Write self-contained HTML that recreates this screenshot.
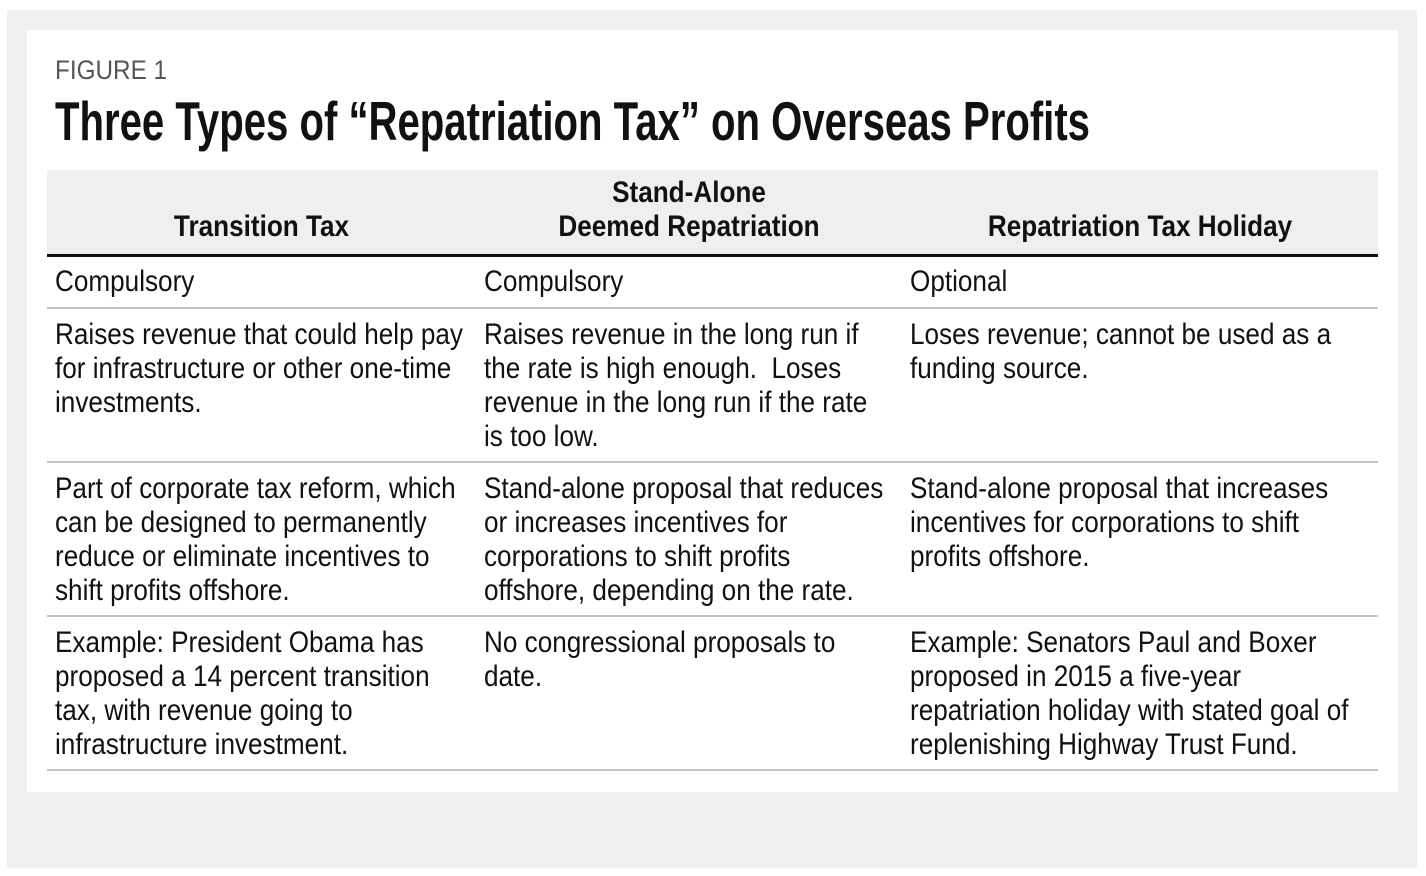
<!DOCTYPE html>
<html><head><meta charset="utf-8"><style>
body{margin:0;width:1426px;height:876px;background:#fff;position:relative;overflow:hidden;font-family:"Liberation Sans",sans-serif;color:#111}
#panel{position:absolute;left:7px;top:10px;width:1410px;height:858px;background:#efefef}
#card{position:absolute;left:27px;top:30px;width:1371px;height:762px;background:#fff}
.t{position:absolute;white-space:nowrap;line-height:34px;font-size:30px;transform-origin:0 0}
#fig{position:absolute;left:55px;top:54px;font-size:27px;color:#555;line-height:32px;transform-origin:0 0;transform:scaleX(0.9)}
#title{position:absolute;left:55px;top:90px;font-size:55px;font-weight:bold;line-height:62px;white-space:nowrap;transform-origin:0 0}
#hdr{position:absolute;left:47px;top:170px;width:1331px;height:84px;background:#efefef;border-bottom:3px solid #111}
.h{position:absolute;font-weight:bold;font-size:30px;line-height:34px;text-align:center;white-space:nowrap;transform-origin:50% 0}
.sep{position:absolute;left:47px;width:1331px;height:0;border-top:2px solid #c4c4c4}
</style></head><body>
<div id="panel"></div>
<div id="card"></div>
<div id="fig">FIGURE 1</div>
<div id="title">Three Types of “Repatriation Tax” on Overseas Profits</div>
<div id="hdr"></div>
<div class="h" style="left:47px;width:429px;top:210px">Transition Tax</div>
<div class="h" style="left:476px;width:426px;top:176px">Stand-Alone<br>Deemed Repatriation</div>
<div class="h" style="left:902px;width:476px;top:210px">Repatriation Tax Holiday</div>
<div class="sep" style="top:307px"></div>
<div class="sep" style="top:461px"></div>
<div class="sep" style="top:615px"></div>
<div class="sep" style="top:769px"></div>

<div class="t" style="left:55px;top:265px">Compulsory</div>
<div class="t" style="left:484px;top:265px">Compulsory</div>
<div class="t" style="left:910px;top:265px">Optional</div>

<div class="t" style="left:55px;top:318px"><span id="ref">Raises revenue that could help pay</span><br>for infrastructure or other one-time<br>investments.</div>
<div class="t" style="left:484px;top:318px">Raises revenue in the long run if<br>the rate is high enough.&nbsp; Loses<br>revenue in the long run if the rate<br>is too low.</div>
<div class="t" style="left:910px;top:318px">Loses revenue; cannot be used as a<br>funding source.</div>

<div class="t" style="left:55px;top:472px">Part of corporate tax reform, which<br>can be designed to permanently<br>reduce or eliminate incentives to<br>shift profits offshore.</div>
<div class="t" style="left:484px;top:472px">Stand-alone proposal that reduces<br>or increases incentives for<br>corporations to shift profits<br>offshore, depending on the rate.</div>
<div class="t" style="left:910px;top:472px">Stand-alone proposal that increases<br>incentives for corporations to shift<br>profits offshore.</div>

<div class="t" style="left:55px;top:626px">Example: President Obama has<br>proposed a 14 percent transition<br>tax, with revenue going to<br>infrastructure investment.</div>
<div class="t" style="left:484px;top:626px">No congressional proposals to<br>date.</div>
<div class="t" style="left:910px;top:626px">Example: Senators Paul and Boxer<br>proposed in 2015 a five-year<br>repatriation holiday with stated goal of<br>replenishing Highway Trust Fund.</div>
<script>
(function(){
  var w=document.getElementById('ref').getBoundingClientRect().width;
  var f=408/w;
  document.querySelectorAll('.t,.h').forEach(function(e){e.style.transform='scaleX('+f+')';});
  var t=document.getElementById('title');
  var tw=t.getBoundingClientRect().width;
  t.style.transform='scaleX('+(1035/tw)+')';
})();
</script>
</body></html>
